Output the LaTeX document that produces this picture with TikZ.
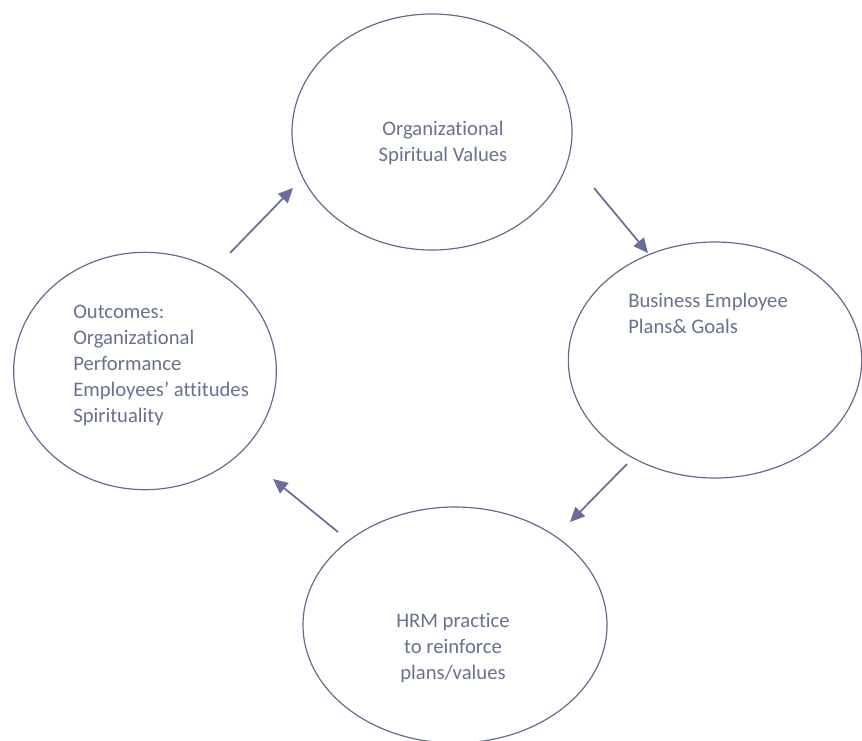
\documentclass[tikz,border=0pt]{standalone}
\usepackage{fontspec}
\setmainfont{Carlito}[Ligatures=NoCommon]
\usetikzlibrary{shapes.geometric,arrows.meta}
\definecolor{ringline}{RGB}{100,108,142}
\definecolor{ringtext}{RGB}{104,113,142}
\definecolor{flowarrow}{RGB}{104,110,150}

\begin{document}
\begin{tikzpicture}[x=0.75pt, y=-0.75pt,
    ring/.style={draw=ringline, ellipse, line width=0.9pt, inner sep=0pt},
    words/.style={text=ringtext, font=\fontsize{15.5}{19.5}\selectfont, inner sep=0pt},
    flow/.style={draw=flowarrow, line width=1.3pt, -{Triangle[length=11pt,width=10pt]}}]
    \useasboundingbox (0,0) rectangle (862,740);

    % the four stages of the cycle
    \node[ring, minimum width=210pt, minimum height=177pt] (values) at (432,132) {};
    \node[ring, minimum width=220pt, minimum height=177pt] (plans) at (715,360) {};
    \node[ring, minimum width=228pt, minimum height=177pt] (hrm) at (455,625) {};
    \node[ring, minimum width=197pt, minimum height=178pt] (outcomes) at (145,371) {};

    \node[words, align=center, anchor=north] (valuestext) at (443,121)
        {Organizational\\Spiritual Values};
    \node[words, align=left, anchor=north west] (planstext) at (628,293)
        {Business Employee\\Plans\& Goals};
    \node[words, align=center, anchor=north] (hrmtext) at (453,613)
        {HRM practice\\to reinforce\\plans/values};
    \node[words, align=left, anchor=north west] (outcomestext) at (73,305)
        {Outcomes:\\Organizational\\Performance\\Employees’ attitudes\\Spirituality};

    % arrow ends, kept clear of the ellipses
    \coordinate (o2v) at (230,253);
    \coordinate (v2o) at (293,188);
    \coordinate (v2p) at (594,188);
    \coordinate (p2v) at (648,253);
    \coordinate (p2h) at (627,464);
    \coordinate (h2p) at (570,522);
    \coordinate (h2o) at (338,532);
    \coordinate (o2h) at (273,479);

    \draw[flow] (o2v) -- (v2o);
    \draw[flow] (v2p) -- (p2v);
    \draw[flow] (p2h) -- (h2p);
    \draw[flow] (h2o) -- (o2h);
\end{tikzpicture}
\end{document}
